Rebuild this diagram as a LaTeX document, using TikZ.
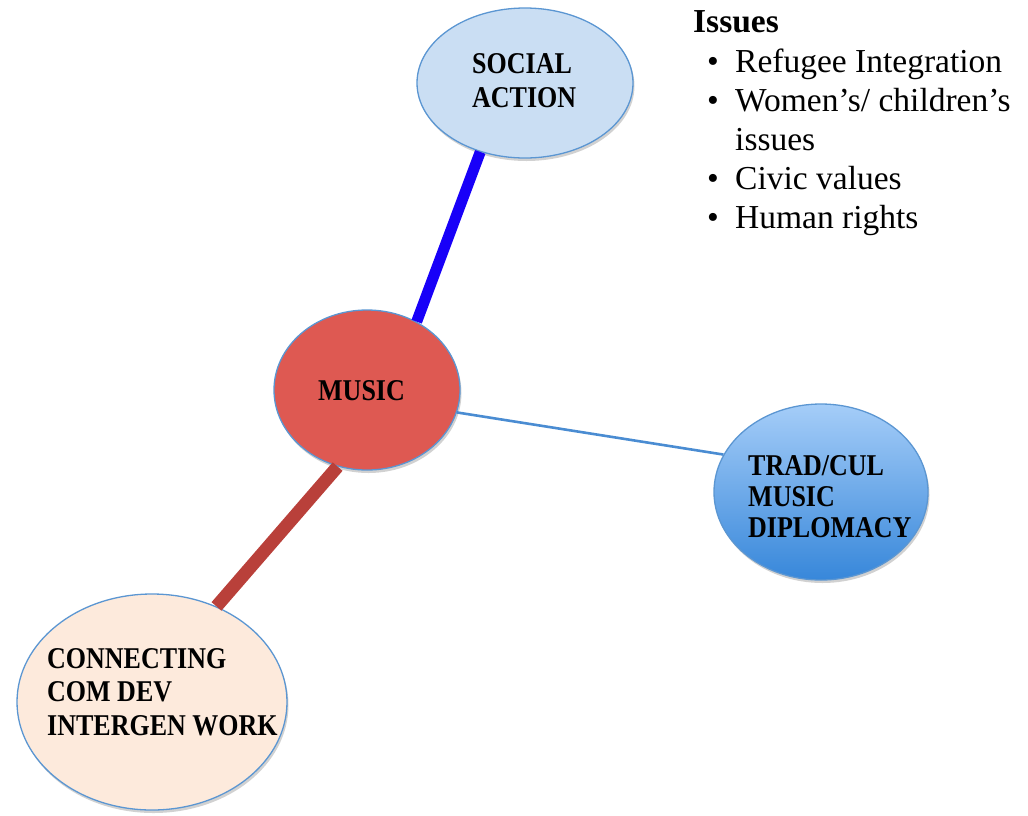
\documentclass[tikz,border=0pt]{standalone}
\usepackage{fontspec}
\usepackage{graphicx}
\setmainfont{Liberation Serif}
\usetikzlibrary{shapes.geometric,shadows}
\definecolor{socfill}{RGB}{202,222,243}
\definecolor{musfill}{RGB}{222,89,82}
\definecolor{tradtop}{RGB}{165,205,248}
\definecolor{tradbot}{RGB}{55,135,218}
\definecolor{confill}{RGB}{253,234,220}
\definecolor{edgeblue}{RGB}{91,150,210}
\definecolor{linkblue}{RGB}{24,0,248}
\definecolor{linkbrown}{RGB}{185,64,58}
\definecolor{linklight}{RGB}{74,140,210}
\newcommand\lbltxt[1]{\scalebox{1}[1.16]{#1}}
\tikzset{
  bubble/.style={ellipse, draw=edgeblue, line width=1.3pt, inner sep=0pt,
    drop shadow={shadow xshift=1.5pt, shadow yshift=-3pt, opacity=0.18, fill=black}},
  lbl/.style={anchor=base west, inner sep=0pt, font=\bfseries\fontsize{26}{32}\selectfont},
  itm/.style={anchor=base west, inner sep=0pt, font=\fontsize{33.5}{39}\selectfont},
  bul/.style={anchor=base, inner sep=0pt, font=\fontsize{33.5}{39}\selectfont}
}
\begin{document}
\begin{tikzpicture}[x=1pt,y=-1pt]
\useasboundingbox (0,0) rectangle (1028,815);
% bubbles
\node[bubble, fill=socfill, minimum width=216pt, minimum height=150pt] (social) at (525,83) {};
\node[bubble, fill=musfill, minimum width=186pt, minimum height=160pt] (music) at (367,390) {};
\node[bubble, top color=tradtop, bottom color=tradbot, minimum width=214pt, minimum height=176pt] (trad) at (821,492) {};
\node[bubble, fill=confill, minimum width=270pt, minimum height=216pt] (con) at (152,702) {};
% connectors
\draw[linkblue, line width=11pt] (music.54.7) -- (social.237);
\draw[linklight, line width=2.6pt] (music.-14.6) -- (trad.159.2);
\draw[linkbrown, line width=13pt] (music.249) -- (con.56.4);
% labels
\node[lbl] (soc1) at (472,73) {\lbltxt{SOCIAL}};
\node[lbl] (soc2) at (472,107) {\lbltxt{ACTION}};
\node[lbl] (mus1) at (318,400) {\lbltxt{MUSIC}};
\node[lbl] (tr1) at (748,475) {\lbltxt{TRAD/CUL}};
\node[lbl] (tr2) at (748,506) {\lbltxt{MUSIC}};
\node[lbl] (tr3) at (748,537) {\lbltxt{DIPLOMACY}};
\node[lbl] (con1) at (47,668) {\lbltxt{CONNECTING}};
\node[lbl] (con2) at (47,701) {\lbltxt{COM DEV}};
\node[lbl] (con3) at (47,735) {\lbltxt{INTERGEN WORK}};
% issues list
\node[itm, font=\bfseries\fontsize{33.5}{39}\selectfont] (iss) at (693,32) {Issues};
\node[bul] (b1) at (713,72) {•};
\node[itm] (i1) at (735,72) {Refugee Integration};
\node[bul] (b2) at (713,111) {•};
\node[itm] (i2) at (735,111) {Women’s/ children’s};
\node[itm] (i2b) at (735,150) {issues};
\node[bul] (b3) at (713,189) {•};
\node[itm] (i3) at (735,189) {Civic values};
\node[bul] (b4) at (713,228) {•};
\node[itm] (i4) at (735,228) {Human rights};
\end{tikzpicture}
\end{document}
